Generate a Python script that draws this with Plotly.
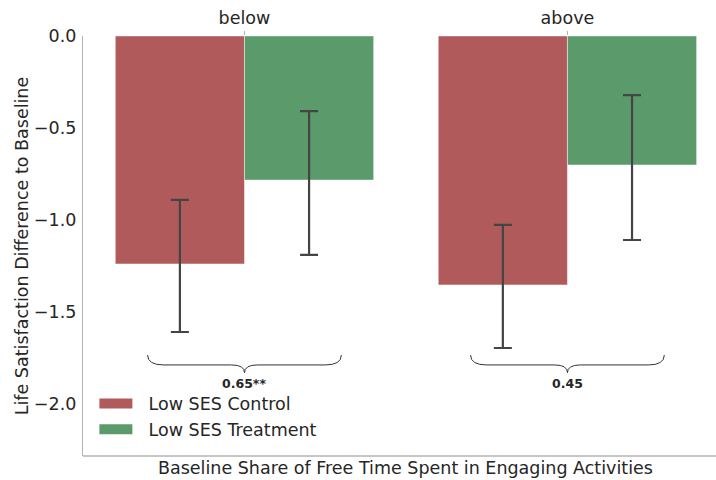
import plotly.graph_objects as go

# ---- data ----
groups = ["below", "above"]
series_names = ["Low SES Control", "Low SES Treatment"]
control_mean = [-1.239, -1.353]
control_ci_low = [-1.609, -1.696]
control_ci_high = [-0.891, -1.027]
treat_mean = [-0.783, -0.701]
treat_ci_low = [-1.190, -1.109]
treat_ci_high = [-0.408, -0.321]
diff_labels = ["0.65**", "0.45"]
y_ticks = [0.0, -0.5, -1.0, -1.5, -2.0]

# ---- style ----
col_control = "#b05a5c"
col_treat = "#5b9b6b"
txt = "#262626"
spine = "#b3b3b3"
err_col = "#444444"
FONT = "DejaVu Sans"
FS = 17.5
PAD = "\u00a0\u00a0"

xpos = list(range(len(groups)))

fig = go.Figure()

def add_series(name, means, lo, hi, color):
    fig.add_trace(go.Bar(
        x=xpos, y=means, name=name, showlegend=False,
        marker=dict(color=color, line=dict(color="rgba(255,255,255,0.45)", width=1)),
        error_y=dict(type="data", symmetric=False,
                     array=[h - m for h, m in zip(hi, means)],
                     arrayminus=[m - l for m, l in zip(means, lo)],
                     color=err_col, thickness=2.2, width=9),
    ))
    # legend proxy with a wide rectangular swatch
    fig.add_trace(go.Scatter(x=[None], y=[None], mode="lines", name=PAD + name,
                             line=dict(color=color, width=13)))

add_series(series_names[0], control_mean, control_ci_low, control_ci_high, col_control)
add_series(series_names[1], treat_mean, treat_ci_low, treat_ci_high, col_treat)

# braces below each group
shapes = []
annotations = []
hw = 0.3
y_top, y_mid, y_tip = -1.734, -1.788, -1.830
for xc, lab in zip(xpos, diff_labels):
    path = (f"M {xc-hw},{y_top} Q {xc-hw},{y_mid} {xc-hw+0.05},{y_mid} "
            f"L {xc-0.04},{y_mid} Q {xc},{y_mid} {xc},{y_tip} "
            f"Q {xc},{y_mid} {xc+0.04},{y_mid} "
            f"L {xc+hw-0.05},{y_mid} Q {xc+hw},{y_mid} {xc+hw},{y_top}")
    shapes.append(dict(type="path", path=path, xref="x", yref="y",
                       line=dict(color="#333333", width=1)))
    annotations.append(dict(x=xc, y=-1.89, xref="x", yref="y", text=f"<b>{lab}</b>",
                            showarrow=False, font=dict(family=FONT, size=12.5, color=txt),
                            yanchor="middle"))

# bottom spine
shapes.append(dict(type="line", xref="paper", yref="paper", x0=0, x1=1, y0=0, y1=0,
                   line=dict(color=spine, width=1.3)))
# x axis title at bottom
annotations.append(dict(x=0.51, y=0, xref="paper", yref="paper", yanchor="top",
                        yshift=0, showarrow=False,
                        text="Baseline Share of Free Time Spent in Engaging Activities",
                        font=dict(family=FONT, size=FS, color=txt)))

fig.update_layout(
    width=716, height=480,
    margin=dict(l=83, r=0, t=36, b=24),
    paper_bgcolor="white", plot_bgcolor="white",
    barmode="group", bargap=0.2, bargroupgap=0,
    font=dict(family=FONT, size=FS, color=txt),
    shapes=shapes, annotations=annotations,
    legend=dict(x=0.018, y=0.02, xanchor="left", yanchor="bottom",
                bgcolor="rgba(0,0,0,0)", font=dict(family=FONT, size=FS, color=txt),
                tracegroupgap=0, itemwidth=33),
    showlegend=True,
)
fig.update_xaxes(side="top", range=[-0.5, 1.46], tickvals=xpos, ticktext=groups,
                 ticks="outside", ticklen=4, tickcolor=spine, tickwidth=1,
                 showline=False, showgrid=False, zeroline=False,
                 tickfont=dict(family=FONT, size=FS, color=txt))
fig.update_yaxes(range=[-2.283, 0], tickvals=y_ticks, tickformat=".1f",
                 showline=True, linecolor=spine, linewidth=1.3, mirror=False,
                 showgrid=False, zeroline=False, ticks="", ticklabelstandoff=2,
                 tickfont=dict(family=FONT, size=FS, color=txt),
                 title=dict(text="Life Satisfaction Difference to Baseline", standoff=0,
                            font=dict(family=FONT, size=FS, color=txt)))

fig.write_html("out.html")
